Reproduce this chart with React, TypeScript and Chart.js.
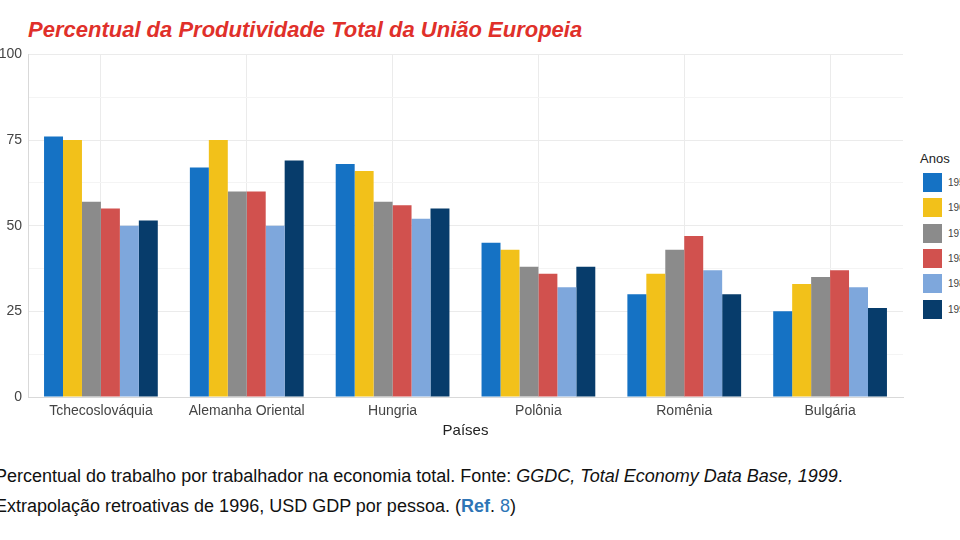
import React, { useEffect, useRef } from "react";
import { Chart, registerables } from "chart.js";
Chart.register(...registerables);

const categories = ["Tchecoslováquia", "Alemanha Oriental", "Hungria", "Polônia", "Romênia", "Bulgária"];
const years = ["1950", "1960", "1970", "1980", "1989", "1996"];
const colors = ["#1572C4", "#F2C11A", "#8B8B8B", "#D1514E", "#7EA7DC", "#073C6B"];
const s1950 = [76, 67, 68, 45, 30, 25];
const s1960 = [75, 75, 66, 43, 36, 33];
const s1970 = [57, 60, 57, 38, 43, 35];
const s1980 = [55, 60, 56, 36, 47, 37];
const s1989 = [50, 50, 52, 32, 37, 32];
const s1996 = [51.5, 69, 55, 38, 30, 26];
const series = [s1950, s1960, s1970, s1980, s1989, s1996];

const font = "Liberation Sans, Arial, sans-serif";

export default function App() {
  const ref = useRef<HTMLCanvasElement>(null);
  useEffect(() => {
    const chart = new Chart(ref.current!, {
      type: "bar",
      data: {
        labels: categories,
        datasets: series.map((d, i) => ({ label: years[i], data: d, backgroundColor: colors[i], borderWidth: 0 })),
      },
      options: {
        animation: false,
        responsive: false,
        maintainAspectRatio: false,
        layout: { padding: { top: 10, right: 3 } },
        datasets: { bar: { categoryPercentage: 0.78, barPercentage: 1 } } as any,
        plugins: { legend: { display: false }, tooltip: { enabled: false } },
        scales: {
          x: {
            grid: { color: "#EBEBEB", offset: false, drawTicks: false },
            border: { color: "#D9D9D9" },
            ticks: { color: "#444", font: { family: font, size: 14 }, padding: 6 },
            title: { display: true, text: "Países", color: "#222", font: { family: font, size: 15 }, padding: 0 },
            afterFit: (s: any) => { s.height = 43; },
          },
          y: {
            min: 0, max: 100,
            grid: { color: (c: any) => (c.tick && c.tick.value % 25 === 0 ? "#EBEBEB" : "#F4F4F4"), drawTicks: false },
            border: { color: "#D9D9D9" },
            ticks: {
              stepSize: 12.5, color: "#444", padding: 6, font: { family: font, size: 14 },
              callback: (v: any) => (v % 25 === 0 ? String(v) : ""),
            },
            afterFit: (s: any) => { s.width = 40; },
          },
        },
      },
    });
    return () => chart.destroy();
  }, []);
  return (
    <div style={{ position: "fixed", left: 0, top: 0, width: 960, height: 540, overflow: "hidden", background: "#fff", fontFamily: font }}>
      <div style={{ position: "absolute", left: 28, top: 17, color: "#E0302A", fontWeight: "bold", fontStyle: "italic", fontSize: 22 }}>
        Percentual da Produtividade Total da União Europeia
      </div>
      <canvas ref={ref} width={918} height={400} style={{ position: "absolute", left: -12, top: 40, width: 918, height: 400 }} />
      <div style={{ position: "absolute", left: 920, top: 151, fontSize: 13, color: "#222" }}>Anos</div>
      {years.map((y, i) => (
        <div key={y} style={{ position: "absolute", left: 923, top: 173 + i * 25.3, display: "flex", alignItems: "center" }}>
          <div style={{ width: 19, height: 19, background: colors[i] }} />
          <span style={{ marginLeft: 6, fontSize: 10, color: "#444" }}>{y}</span>
        </div>
      ))}
      <div style={{ position: "absolute", left: -5, top: 461, fontSize: 18, color: "#111", whiteSpace: "nowrap", lineHeight: "30px" }}>
        Percentual do trabalho por trabalhador na economia total. Fonte: <i>GGDC, Total Economy Data Base, 1999</i>.<br />
        Extrapolação retroativas de 1996, USD GDP por pessoa. (<b style={{ color: "#2E75B6" }}>Ref</b>. <span style={{ color: "#2E75B6" }}>8</span>)
      </div>
    </div>
  );
}
